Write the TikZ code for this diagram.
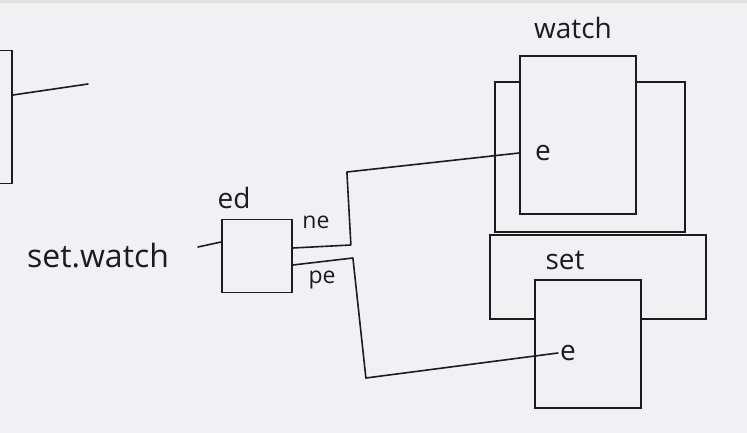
\documentclass[tikz,border=0pt]{standalone}
\usepackage{fontspec}
\setmainfont{Open Sans}
\usepackage{tikz}
\usetikzlibrary{positioning}

\definecolor{paper}{HTML}{F1F0F3}
\definecolor{ink}{HTML}{1C1C1C}

\begin{document}
\begin{tikzpicture}[
  x=1pt, y=-1pt,
  box/.style={draw=ink, fill=paper, line width=1.8pt, inner sep=0pt},
  backbox/.style={box},
  wire/.style={draw=ink, line width=1.6pt, line join=round, line cap=round},
  lbl/.style={text=ink, inner sep=2pt, font=\fontsize{28}{30}\selectfont},
  small/.style={lbl, font=\fontsize{23}{26}\selectfont}
]
\clip (0,0) rectangle (747,433);
\fill[paper] (0,0) rectangle (747,433);
\fill[black!12] (0,0) rectangle (747,3);

% previous frame, cut off at the left
\node[box, minimum width=36, minimum height=133] (prev) at (-6,117) {};
\coordinate (stub) at (88,84);

% back frames
\node[backbox, minimum width=190, minimum height=150] (watchback) at (590,157) {};
\node[backbox, minimum width=216, minimum height=84] (setback) at (598,277) {};

% front frames
\node[box, minimum width=116, minimum height=158] (watch) at (578,135) {};
\node[box, minimum width=106, minimum height=128] (set) at (588,344) {};
\node[box, minimum width=70, minimum height=73] (ed) at (257,256) {};

% labels
\node[lbl, font=\fontsize{32}{34}\selectfont] (swlbl) at (98,256) {set.watch};
\node[lbl] (edlbl) at (234,198) {ed};
\node[lbl] (watchlbl) at (573,28) {watch};
\node[lbl] (setlbl) at (565,260) {set};
\node[lbl] (we) at (543,153) {e};
\node[lbl] (se) at (568,353) {e};
\node[small] (nelbl) at (316,222) {ne};
\node[small] (pelbl) at (322,280) {pe};

\coordinate (swin) at (198,247);

% wires
\draw[wire] ([yshift=22pt]prev.east) -- (stub);
\draw[wire] (swin) -- ([yshift=14pt]ed.west);
\draw[wire] ([yshift=8pt]ed.east) -- ++(58,-3) -- ++(-4,-73) -- (watch.west |- we);
\draw[wire] ([yshift=-9pt]ed.east) -- ++(60,-7) -- ++(13,120) -- (se.west);
\end{tikzpicture}
\end{document}
